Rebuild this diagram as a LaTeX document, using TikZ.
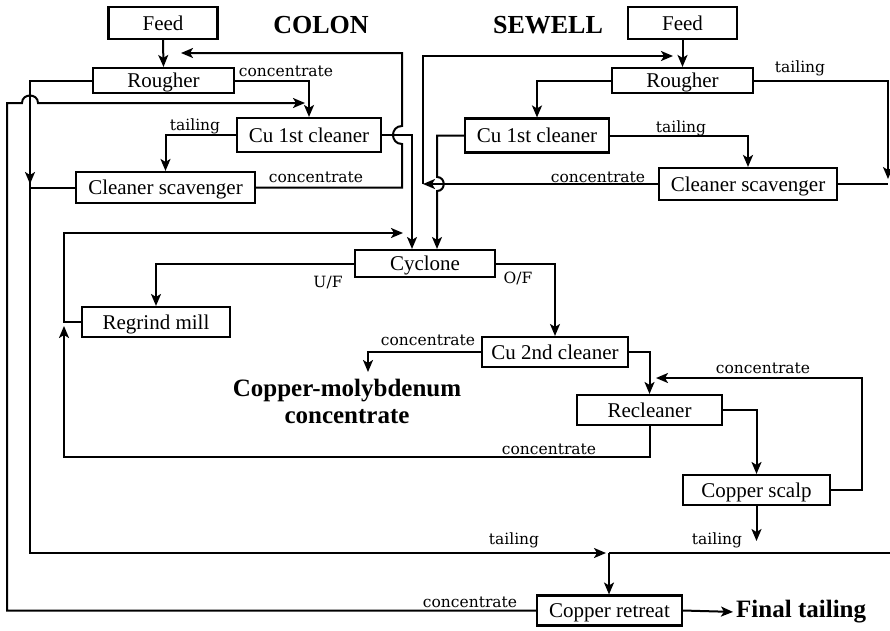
\documentclass[tikz,border=0pt]{standalone}
\usepackage{fontspec}
\setmainfont{Liberation Serif}
\newfontfamily\lblfont{DejaVu Serif}
\usetikzlibrary{arrows.meta}
\begin{document}
\begin{tikzpicture}[x=1pt,y=-1pt,
  box/.style={draw, line width=2.1pt, inner sep=0pt, text height=14pt, text depth=0pt, font=\fontsize{21}{24}\selectfont},
  lbl/.style={inner sep=0pt, anchor=base, font=\lblfont\fontsize{15.5}{18}\selectfont},
  flow/.style={line width=2pt},
  arr/.style={flow, -{Stealth[length=12pt,width=10pt,inset=3pt]}},
  ttl/.style={inner sep=0pt, font=\bfseries\fontsize{26}{28}\selectfont},
  big/.style={inner sep=0pt, anchor=base, font=\bfseries\fontsize{25}{27}\selectfont}
]
\useasboundingbox (0,0) rectangle (890,630);

% boxes
\node[box, minimum width=109pt, minimum height=32pt] (cfeed) at (163,23) {Feed};
\node[box, minimum width=141pt, minimum height=25pt] (crough) at (163.5,80.5) {Rougher};
\node[box, minimum width=144pt, minimum height=34pt] (ccu1) at (309,135) {Cu 1st cleaner};
\node[box, minimum width=179pt, minimum height=31pt] (cscav) at (165.5,187.5) {Cleaner scavenger};
\node[box, minimum width=109pt, minimum height=32pt] (sfeed) at (682.5,23) {Feed};
\node[box, minimum width=141pt, minimum height=25pt] (srough) at (682.5,80.5) {Rougher};
\node[box, minimum width=144pt, minimum height=34pt] (scu1) at (537,135.5) {Cu 1st cleaner};
\node[box, minimum width=178pt, minimum height=32pt] (sscav) at (748,184) {Cleaner scavenger};
\node[box, minimum width=140pt, minimum height=27pt] (cyc) at (425,263.5) {Cyclone};
\node[box, minimum width=148pt, minimum height=30pt] (mill) at (156,322) {Regrind mill};
\node[box, minimum width=146pt, minimum height=30pt] (cu2) at (555,352) {Cu 2nd cleaner};
\node[box, minimum width=145pt, minimum height=30pt] (recl) at (649.5,410) {Recleaner};
\node[box, minimum width=147pt, minimum height=30pt] (scalp) at (756.5,490) {Copper scalp};
\node[box, minimum width=145pt, minimum height=30pt] (retr) at (609.5,610.5) {Copper retreat};

% titles
\node[ttl] (colon) at (321,25) {COLON};
\node[ttl] (sewell) at (548,25) {SEWELL};
\node[big] (cumo1) at (347,396) {Copper-molybdenum};
\node[big] (cumo2) at (347,423) {concentrate};
\node[ttl, anchor=west, font=\bfseries\fontsize{25}{27}\selectfont] (final) at (736,612) {Final tailing};

% labels
\node[lbl] (l1) at (286,76) {concentrate};
\node[lbl] (l2) at (195,130) {tailing};
\node[lbl] (l3) at (316,182) {concentrate};
\node[lbl] (l4) at (800,72) {tailing};
\node[lbl] (l5) at (681,132) {tailing};
\node[lbl] (l6) at (598,182) {concentrate};
\node[lbl] (l7) at (328,287) {U/F};
\node[lbl] (l8) at (518,283) {O/F};
\node[lbl] (l9) at (428,345) {concentrate};
\node[lbl] (l10) at (763,373) {concentrate};
\node[lbl] (l11) at (549,454) {concentrate};
\node[lbl] (l12) at (514,544) {tailing};
\node[lbl] (l13) at (717,544) {tailing};
\node[lbl] (l14) at (470,607) {concentrate};

% helper coordinates
\coordinate (J) at (609,553);
\coordinate (xa) at (412,0);
\coordinate (xb) at (437,0);
\coordinate (rt) at (888,0);

% COLON circuit
\draw[arr] (cfeed.south) -- (crough.north);
\draw[arr] (crough.east) -| (ccu1.north);
\draw[arr] (ccu1.west) -| (cscav.north);
\draw[arr] (crough.west) -| (30,184);
\draw[flow] (cscav.west) -- (30,187.5);
\draw[arr, shorten >=3pt] (30,182) |- (J);
\draw[arr] (cscav.east) -- (402,187.5) -- (402,144)
  .. controls (390,144) and (390,126) .. (402,126) -- (402,53) -- (181,53);
\draw[arr] (ccu1.east) -| (xa |- cyc.north);
\draw[arr] (retr.west) -- (7,610.5) -- (7,103) -- (22,103)
  .. controls (22,93) and (38,93) .. (38,103) -- (305,103);

% SEWELL circuit
\draw[arr] (sfeed.south) -- (srough.north);
\draw[arr] (srough.west) -| (scu1.north);
\draw[arr] (scu1.east) -| (sscav.north);
\draw[arr] (srough.east) -| (888,179);
\draw[flow] (sscav.east) -- (rt |- sscav.east);
\draw[arr] (sscav.west) -- (423,184);
\draw[arr] (423,184) |- (673,56);
\draw[arr] (scu1.west) -- (437,135.5) -- (437,177)
  .. controls (446,177) and (446,191) .. (437,191) -- (xb |- cyc.north);

% common part
\draw[arr] (cyc.west) -| (mill.north);
\draw[arr] (cyc.east) -| (cu2.north);
\draw[arr] (mill.west) -- (64,322) -- (64,233) -- (403,233);
\draw[arr] (recl.south) -- (649.5,457) -- (64,457) -- (64,326);
\draw[arr] (cu2.west) -| (368,372);
\draw[arr] (cu2.east) -| (recl.north);
\draw[arr] (recl.east) -| (scalp.north);
\draw[arr] (scalp.east) -- (862,490) -- (862,378) -- (656,378);
\draw[arr] (scalp.south) -- (756.5,541);
\draw[flow] (J) -- (890,553);
\draw[arr] (J) -- (J |- retr.north);
\draw[arr, shorten >=3pt] (retr.east) -- (final.west);
\end{tikzpicture}
\end{document}
